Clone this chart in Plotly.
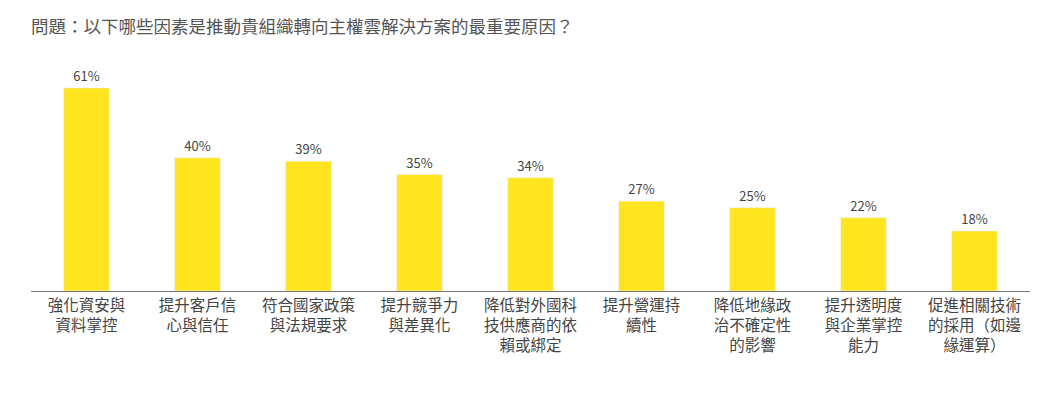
import plotly.graph_objects as go

categories = ["強化資安與<br>資料掌控", "提升客戶信<br>心與信任", "符合國家政策<br>與法規要求", "提升競爭力<br>與差異化",
              "降低對外國科<br>技供應商的依<br>賴或綁定", "提升營運持<br>續性", "降低地緣政<br>治不確定性<br>的影響",
              "提升透明度<br>與企業掌控<br>能力", "促進相關技術<br>的採用（如邊<br>緣運算）"]
values = [61, 40, 39, 35, 34, 27, 25, 22, 18]
labels = [f"{v}%" for v in values]

FONT = "Noto Sans CJK TC"
fig = go.Figure(go.Bar(
    x=categories, y=values, text=labels, textposition="outside",
    marker_color="#FFE51F", width=0.41,
    textfont=dict(size=13, color="#444", family=FONT), cliponaxis=False,
))
fig.update_layout(
    width=1051, height=415, plot_bgcolor="white", paper_bgcolor="white",
    margin=dict(l=23, r=29, t=50, b=132, autoexpand=False), showlegend=False,
    title=dict(text="問題：以下哪些因素是推動貴組織轉向主權雲解決方案的最重要原因？",
               x=23/1051, xanchor="left", y=0.955, yanchor="middle",
               font=dict(size=17.5, color="#555", family=FONT)),
    font=dict(family=FONT),
)
fig.update_xaxes(showline=True, linecolor="#777", linewidth=1, ticks="", automargin=False,
                 tickfont=dict(size=15.5, color="#444", family=FONT))
fig.update_yaxes(range=[0, 70], visible=False, showgrid=False, automargin=False)
fig.write_html("out.html")
